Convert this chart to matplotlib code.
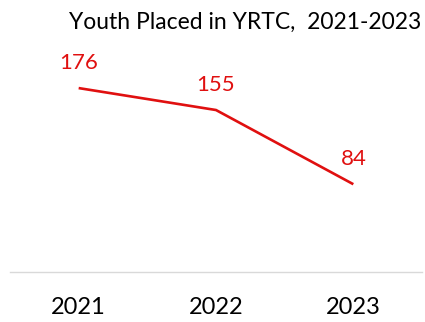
import matplotlib
matplotlib.use("Agg")
from matplotlib import pyplot as plt

years = ["2021", "2022", "2023"]
placed = [176, 155, 84]

RED = "#e01010"
plt.rcParams["font.family"] = ["Lato", "DejaVu Sans"]

fig = plt.figure(figsize=(4.25, 3.22), dpi=100)
ax = fig.add_axes([10 / 425, 50 / 322, 412 / 425, 209 / 322])

x = list(range(len(years)))
ax.plot(x, placed, color=RED, linewidth=1.9, solid_capstyle="butt")
for xi, v in zip(x, placed):
    ax.annotate(str(v), (xi, v), xytext=(0, 18), textcoords="offset points",
                ha="center", va="center", color=RED, fontsize=16)

ax.set_xlim(-0.5, len(years) - 0.5)
ax.set_ylim(0, 200)
ax.set_xticks(x)
ax.set_xticklabels(years, fontsize=17)
ax.tick_params(axis="x", length=0, pad=18)
ax.set_yticks([])
for side in ["top", "left", "right"]:
    ax.spines[side].set_visible(False)
ax.spines["bottom"].set_color("#d9d9d9")
ax.spines["bottom"].set_linewidth(1.0)

fig.text(245 / 425, 1 - 22 / 322, "Youth Placed in YRTC,  2021-2023",
         ha="center", va="center", fontsize=16.5)

fig.savefig("out.png", dpi=100)
